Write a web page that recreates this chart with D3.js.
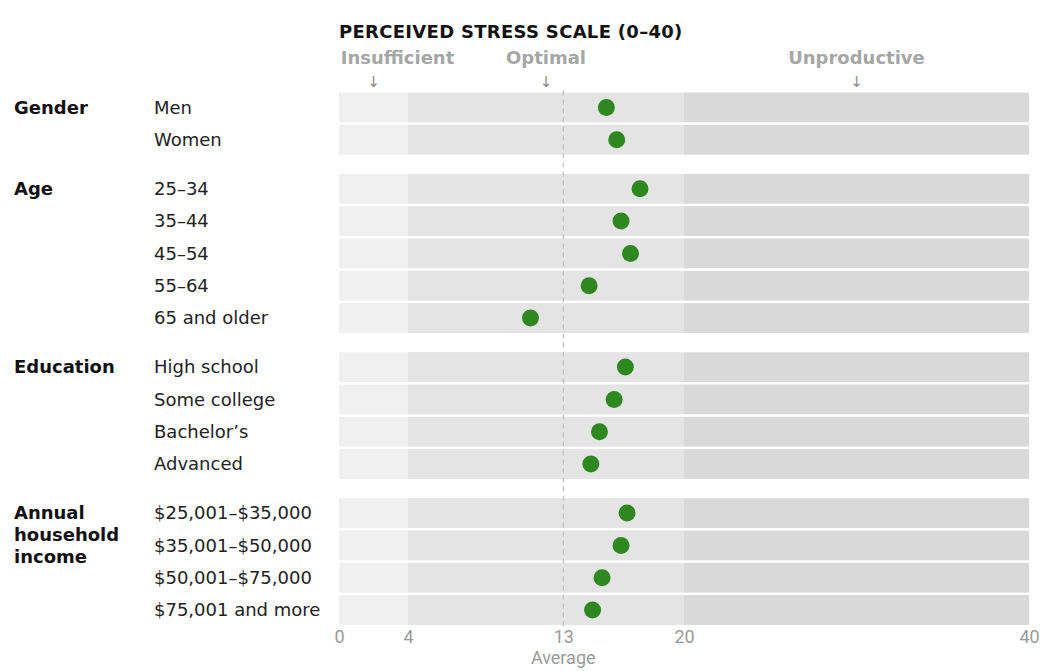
<!DOCTYPE html>
<html>
<head>
<meta charset="utf-8">
<script src="https://cdn.jsdelivr.net/npm/d3@7"></script>
<style>
  body { margin: 0; background: #fff; }
  svg { display: block; }
</style>
</head>
<body>
<div id="chart"></div>
<script>
// groups and their rows
const groups = ['Gender', 'Age', 'Education', 'Annual household income'];
const rowGroups = ['Gender', 'Gender', 'Age', 'Age', 'Age', 'Age', 'Age',
  'Education', 'Education', 'Education', 'Education',
  'Annual household income', 'Annual household income', 'Annual household income', 'Annual household income'];
const rowLabels = ['Men', 'Women', '25–34', '35–44', '45–54', '55–64', '65 and older',
  'High school', 'Some college', 'Bachelor’s', 'Advanced',
  '$25,001–$35,000', '$35,001–$50,000', '$50,001–$75,000', '$75,001 and more'];
const stressValues = [15.5, 16.1, 17.45, 16.35, 16.9, 14.5, 11.1,
  16.6, 15.95, 15.1, 14.6, 16.7, 16.35, 15.25, 14.7];

// background zones
const zoneStarts = [0, 4, 20];
const zoneEnds = [4, 20, 40];
const zoneColors = ['#f0f0f0', '#e4e4e4', '#d9d9d9'];
const zoneLabels = ['Insufficient', 'Optimal', 'Unproductive'];
const zoneArrowAt = [2, 12, 30];

const tickValues = [0, 4, 13, 20, 40];
const averageValue = 13;

const width = 1044;
const height = 671;

const svg = d3.select('#chart').append('svg')
  .attr('width', width)
  .attr('height', height);

const x = d3.scaleLinear().domain([0, 40]).range([339, 1029]);

// compute row positions with extra gap between groups
const rowStep = 32.3;
const groupGap = 16.8;
const firstTop = 92.5;
const rowTops = [];
let cur = firstTop;
rowLabels.forEach((d, i) => {
  if (i > 0 && rowGroups[i] !== rowGroups[i - 1]) cur += groupGap;
  rowTops.push(cur);
  cur += rowStep;
});
const bandH = rowStep - 2.5;

const font = '"DejaVu Sans", Roboto, sans-serif';
const narrow = '"Liberation Sans Narrow", "Roboto", sans-serif';

// title
svg.append('text')
  .attr('x', x(0))
  .attr('y', 38)
  .style('font-family', font)
  .style('font-weight', 700)
  .style('font-size', '18px')
  .style('letter-spacing', '0.3px')
  .style('fill', '#111')
  .text('PERCEIVED STRESS SCALE (0–40)');

// zone labels and arrows
svg.selectAll('.zone-label')
  .data(zoneLabels)
  .join('text')
  .attr('x', (d, i) => x(zoneArrowAt[i]) + (i === 0 ? 24 : 0))
  .attr('y', 64)
  .attr('text-anchor', 'middle')
  .style('font-family', font)
  .style('font-weight', 700)
  .style('font-size', '18px')
  .style('fill', '#a6a6a6')
  .text((d) => d);

svg.selectAll('.zone-arrow')
  .data(zoneArrowAt)
  .join('text')
  .attr('x', (d) => x(d))
  .attr('y', 87)
  .attr('text-anchor', 'middle')
  .style('font-family', font)
  .style('font-size', '15px')
  .style('fill', '#8a8a8a')
  .text('↓');

// row bands
const rows = svg.selectAll('.row')
  .data(rowLabels)
  .join('g')
  .attr('class', 'row')
  .attr('transform', (d, i) => `translate(0,${rowTops[i]})`);

zoneStarts.forEach((z, j) => {
  rows.append('rect')
    .attr('x', x(z))
    .attr('y', 0)
    .attr('width', x(zoneEnds[j]) - x(z))
    .attr('height', bandH)
    .attr('fill', zoneColors[j]);
});

rows.append('text')
  .attr('x', 154)
  .attr('y', bandH / 2)
  .attr('dy', '0.35em')
  .style('font-family', font)
  .style('font-size', '18px')
  .style('fill', '#222')
  .text((d) => d);

// average dashed line
svg.append('line')
  .attr('x1', x(averageValue))
  .attr('x2', x(averageValue))
  .attr('y1', firstTop - 2)
  .attr('y2', rowTops[rowTops.length - 1] + bandH + 4)
  .attr('stroke', '#b8b8b8')
  .attr('stroke-width', 1)
  .attr('stroke-dasharray', '5,4');

// group labels
groups.forEach((g) => {
  const idx = rowGroups.indexOf(g);
  const words = g === 'Annual household income' ? ['Annual', 'household', 'income'] : [g];
  const t = svg.append('text')
    .attr('x', 14)
    .attr('y', rowTops[idx] + bandH / 2)
    .style('font-family', font)
    .style('font-weight', 700)
    .style('font-size', '18px')
    .style('fill', '#111');
  words.forEach((w, k) => {
    t.append('tspan')
      .attr('x', 14)
      .attr('dy', k === 0 ? '0.35em' : '1.2em')
      .text(w);
  });
});

// dots
svg.selectAll('.dot')
  .data(stressValues)
  .join('circle')
  .attr('cx', (d) => x(d))
  .attr('cy', (d, i) => rowTops[i] + bandH / 2)
  .attr('r', 8.5)
  .attr('fill', '#2e881f');

// axis
const axis = svg.append('g')
  .attr('transform', `translate(0,${rowTops[rowTops.length - 1] + bandH})`)
  .call(d3.axisBottom(x).tickValues(tickValues).tickSize(0).tickPadding(5));
axis.select('.domain').remove();
axis.selectAll('text')
  .style('font-family', narrow)
  .style('font-size', '18px')
  .style('fill', '#9a9a9a');

svg.append('text')
  .attr('x', x(averageValue))
  .attr('y', 664)
  .attr('text-anchor', 'middle')
  .style('font-family', narrow)
  .style('font-size', '18px')
  .style('fill', '#9a9a9a')
  .text('Average');
</script>
</body>
</html>
